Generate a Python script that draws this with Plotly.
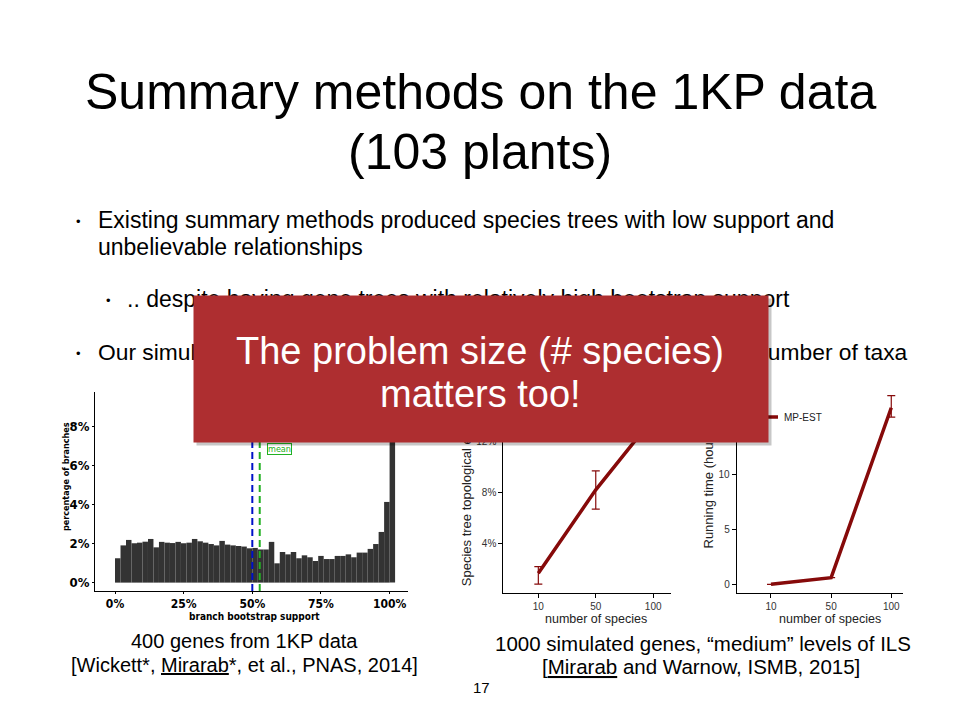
import plotly.graph_objects as go

W, H = 960, 720


def px(x):
    return x / W


def py(y):
    return 1 - y / H


# ---------------- data ----------------
support_bins = list(range(0, 102, 2))          # left edge of each 2% bin (last bin = 100%)
branch_pct = [1.25, 1.91, 2.19, 2.02, 2.05, 2.10, 2.24, 1.81, 2.09, 2.05,
              2.03, 2.09, 2.02, 2.05, 2.24, 2.12, 2.05, 1.98, 1.91, 2.14,
              1.95, 1.91, 1.88, 1.85, 1.76, 1.78, 1.70, 1.70, 2.09, 0.99,
              1.57, 1.45, 1.57, 1.25, 1.40, 1.30, 1.11, 1.37, 1.21, 1.21,
              1.37, 1.37, 1.45, 1.30, 1.54, 1.54, 1.73, 1.98, 2.60, 4.14, 9.60]
median_support = 50.0
mean_support = 52.7
hist_xticks = [0, 25, 50, 75, 100]
hist_yticks = [0, 2, 4, 6, 8]

species = ["10", "50", "100"]
error_pct = [1.65, 8.18, 13.8]
error_hi = [0.51, 1.49, 1.3]
error_lo = [0.85, 1.51, 1.3]
err_yticks = [4, 8, 12]

runtime_h = [0.0, 0.6, 16.05]
runtime_hi = [0.0, 0.0, 1.1]
runtime_lo = [0.0, 0.0, 0.85]
rt_yticks = [0, 5, 10, 15]

DARKRED = "#860A0A"
BOXRED = "#AE2E30"
SANS = "Liberation Sans, Arial, sans-serif"
NARROW = "Liberation Sans Narrow, DejaVu Sans Condensed, Arial Narrow, sans-serif"

fig = go.Figure()

# histogram
fig.add_trace(go.Bar(
    x=[b + 1 for b in support_bins], y=branch_pct, width=2,
    marker=dict(color="#333333", line=dict(width=0)),
    xaxis="x", yaxis="y", showlegend=False, hoverinfo="skip"))

# error vs number of species
fig.add_trace(go.Scatter(
    x=species, y=error_pct, mode="lines",
    line=dict(color=DARKRED, width=3.5),
    error_y=dict(type="data", array=error_hi, arrayminus=error_lo,
                 color=DARKRED, thickness=1.2, width=4),
    xaxis="x2", yaxis="y2", showlegend=False, name="MP-EST"))

# running time vs number of species
fig.add_trace(go.Scatter(
    x=species, y=runtime_h, mode="lines",
    line=dict(color=DARKRED, width=3.5),
    error_y=dict(type="data", array=runtime_hi, arrayminus=runtime_lo,
                 color=DARKRED, thickness=1.2, width=4),
    xaxis="x3", yaxis="y3", showlegend=False, name="MP-EST"))

axis_common = dict(showline=True, linecolor="black", linewidth=1, ticks="outside",
                   tickcolor="black", showgrid=False, zeroline=False, fixedrange=True)

fig.update_layout(
    width=W, height=H, autosize=False,
    margin=dict(l=0, r=0, t=0, b=0),
    paper_bgcolor="white", plot_bgcolor="white",
    showlegend=False,
    xaxis=dict(domain=[px(95), px(408)], range=[-7.29, 106.7], anchor="y",
               tickvals=hist_xticks, ticktext=[f"{t}%" for t in hist_xticks],
               ticklen=2, tickwidth=1,
               tickfont=dict(family=NARROW, size=12, color="black", weight="bold"),
               **axis_common),
    yaxis=dict(domain=[py(591), py(392)], range=[-0.43, 9.78], anchor="x",
               tickvals=hist_yticks, ticktext=[f"{t}%" for t in hist_yticks],
               ticklen=2, tickwidth=1,
               tickfont=dict(family=NARROW, size=13, color="black", weight="bold"),
               **axis_common),
    xaxis2=dict(domain=[px(503.3), px(671)], type="category", range=[-0.61, 2.31],
                anchor="y2", ticklen=4,
                tickfont=dict(family=SANS, size=10, color="#333"), **axis_common),
    yaxis2=dict(domain=[py(592.7), py(390)], range=[0.125, 16.0], anchor="x2",
                tickvals=err_yticks, ticktext=[f"{t}%" for t in err_yticks], ticklen=4,
                tickfont=dict(family=SANS, size=10, color="#333"), **axis_common),
    xaxis3=dict(domain=[px(736.7), px(903.3)], type="category", range=[-0.57, 2.2],
                anchor="y3", ticklen=4,
                tickfont=dict(family=SANS, size=10, color="#333"), **axis_common),
    yaxis3=dict(domain=[py(592.7), py(390)], range=[-0.764, 17.66], anchor="x3",
                tickvals=rt_yticks, ticklen=4,
                tickfont=dict(family=SANS, size=10, color="#333"), **axis_common),
)

# median / mean dashed lines
shapes = [
    dict(type="line", xref="x", yref="y domain", x0=median_support, x1=median_support,
         y0=0, y1=0.97, line=dict(color="#0010C8", width=2, dash="7px,4px"), layer="above"),
    dict(type="line", xref="x", yref="y domain", x0=mean_support, x1=mean_support,
         y0=0, y1=0.97, line=dict(color="#22B022", width=2, dash="7px,4px"), layer="above"),
    # legend line (partly hidden by the red callout)
    dict(type="line", xref="paper", yref="paper", x0=px(745), x1=px(778),
         y0=py(417), y1=py(417), line=dict(color=DARKRED, width=3.5)),
]
fig.update_layout(shapes=shapes)

ann = []


def text(x, y, s, size, color="black", xanchor="center", family=SANS, yanchor="middle", **kw):
    ann.append(dict(x=px(x), y=py(y), xref="paper", yref="paper", text=s,
                    showarrow=False, xanchor=xanchor, yanchor=yanchor,
                    font=dict(family=family, size=size, color=color), **kw))


# title
text(480, 92, "Summary methods on the 1KP data", 50)
text(480, 152, "(103 plants)", 50)

# bullets
text(78, 221, "•", 13)
text(96, 220, "Existing summary methods produced species trees with low support and", 23, xanchor="left")
text(96, 247, "unbelievable relationships", 23, xanchor="left")
text(108, 300, "•", 13)
text(125, 299, ".. despite having gene trees with relatively high bootstrap support", 23, xanchor="left")
text(78, 353, "•", 13)
text(96, 352, "Our simulations show that summary methods are affected by the number of taxa",
     22.8, xanchor="left")

# small-chart axis titles
text(466.7, 588, "Species tree topological error (FN)", 13, color="#222", textangle=-90, yanchor="bottom")
text(708, 551, "Running time (hours)", 13, color="#222", textangle=-90, yanchor="bottom")
text(596, 619, "number of species", 12.5, color="#222")
text(830, 619, "number of species", 12.5, color="#222")
text(782, 417, "MP-EST", 10, color="#222", xanchor="left")

# histogram titles and label
text(254, 616, "<b>branch bootstrap support</b>", 10, family=NARROW)
text(66, 477, "<b>percentage of branches</b>", 9, family=NARROW, textangle=-90)
text(279, 449, "mean", 9, color="#22B022", family=NARROW,
     bordercolor="#22B022", borderwidth=1, borderpad=0)

# captions
text(245, 641, "400 genes from 1KP data", 20)
text(245, 665, "[Wickett*, <span style='text-decoration:underline'>Mirarab</span>*, et al., PNAS, 2014]", 20)
text(703, 643, "1000 simulated genes, “medium” levels of ILS", 20.5)
text(701, 666, "[<span style='text-decoration:underline'>Mirarab</span> and Warnow, ISMB, 2015]", 20.5)
text(481, 687, "17", 15)

# red callout (drawn last so it covers the text below it)
ann.append(dict(x=px(484), y=py(372), xref="paper", yref="paper", text=" ", showarrow=False,
                width=574, height=146, borderpad=0, bgcolor="rgba(0,0,0,0.22)"))
ann.append(dict(x=px(481), y=py(369), xref="paper", yref="paper", text=" ", showarrow=False,
                width=574, height=146, borderpad=0, bgcolor=BOXRED))
text(480, 351, "The problem size (# species)", 38, color="white")
text(480, 394, "matters too!", 38, color="white")

fig.update_layout(annotations=ann)

fig.write_html("out.html", config={"displayModeBar": False, "staticPlot": True},
               post_script="document.body.style.margin='0';document.body.style.overflow='hidden';")
